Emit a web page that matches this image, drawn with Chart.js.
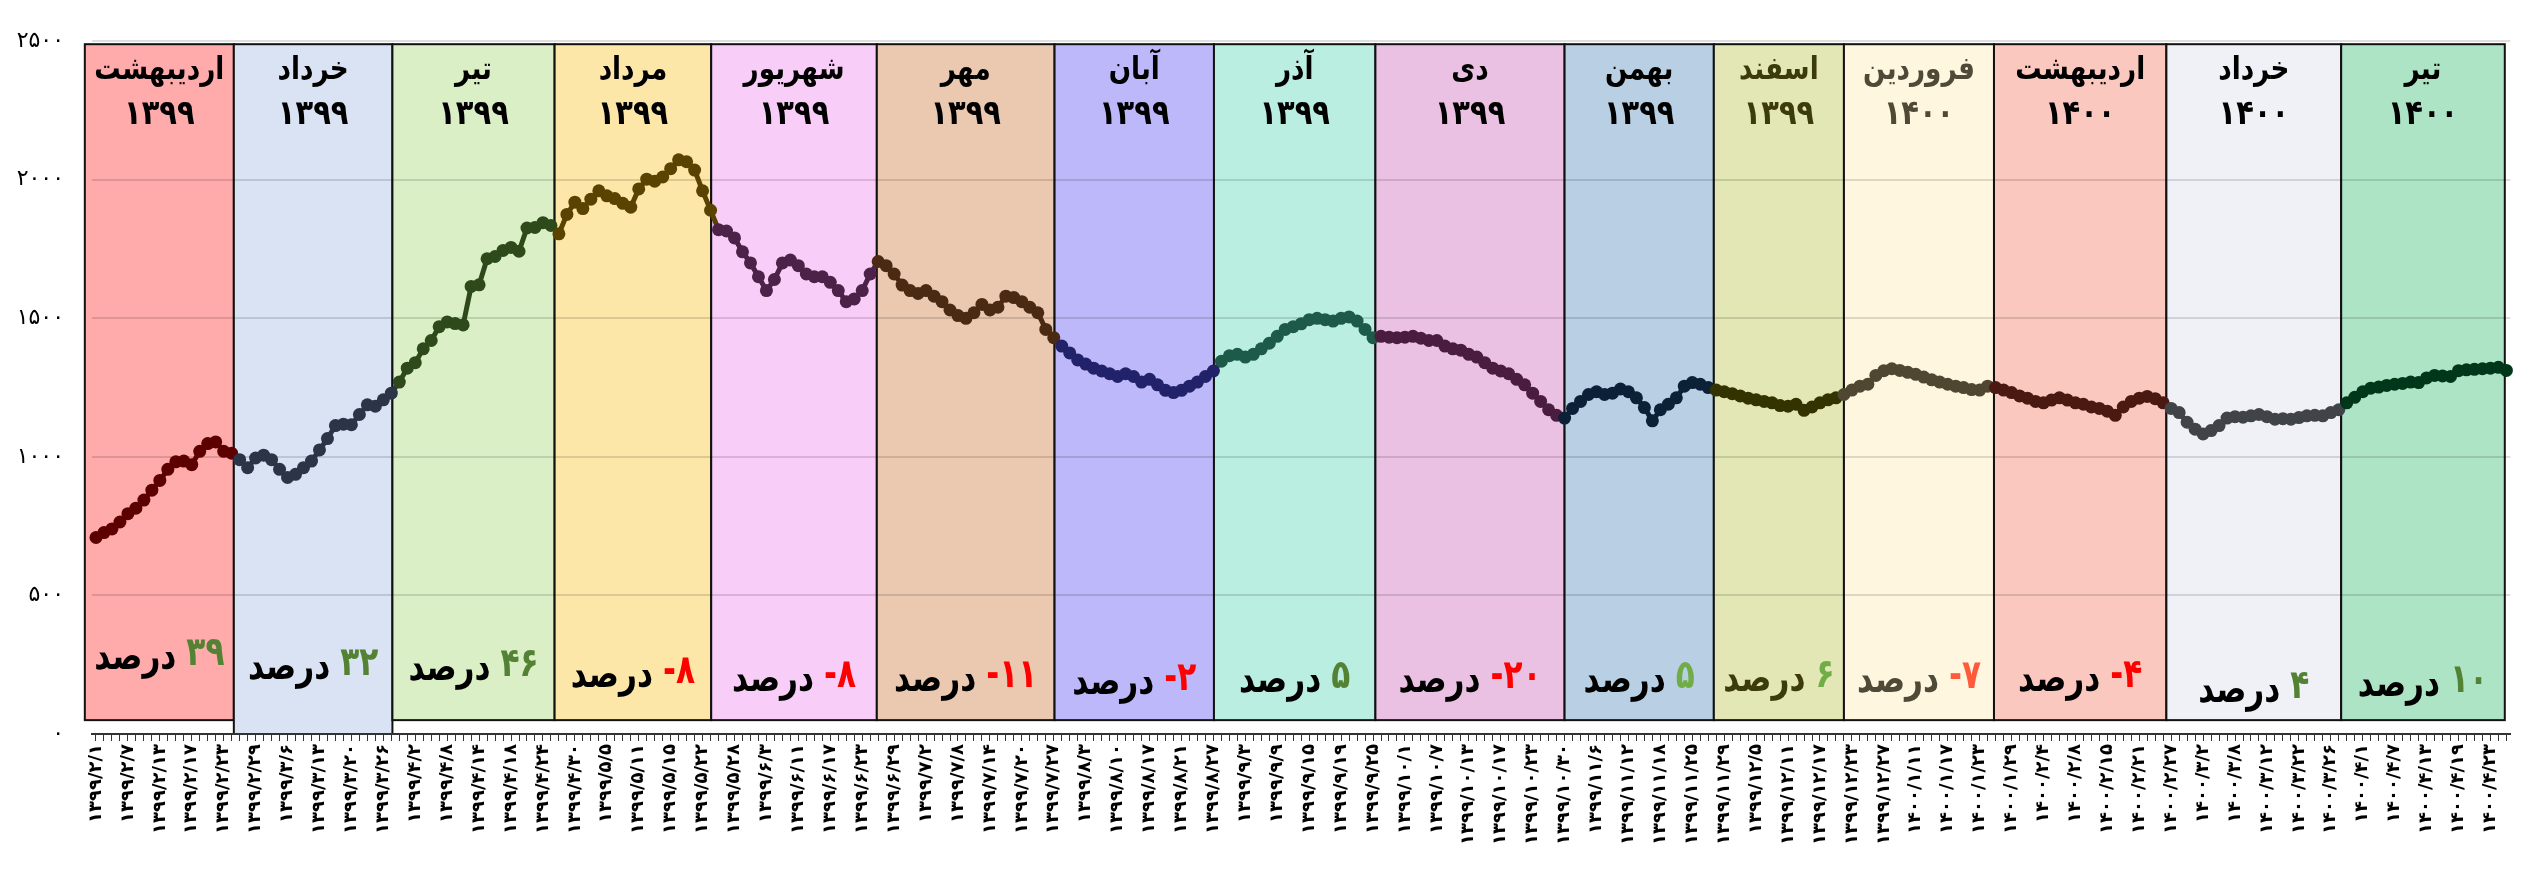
<!DOCTYPE html>
<html lang="fa">
<head>
<meta charset="UTF-8">
<title>شاخص کل بورس ۱۳۹۹ - ۱۴۰۰</title>
<script src="https://cdn.jsdelivr.net/npm/chart.js"></script>
<style>
  body { margin: 0; background: #fff; }
  .wrap { width: 2531px; height: 873px; }
</style>
</head>
<body>
<div class="wrap"><canvas id="shakhes"></canvas></div>
<script>
// tarikh-ha: har 4 rooz-e moamelati yek barchasb
const tickDates = [
  '1399/2/1','1399/2/7','1399/2/13','1399/2/17','1399/2/23','1399/2/29','1399/3/6','1399/3/13','1399/3/20','1399/3/26',
  '1399/4/2','1399/4/8','1399/4/14','1399/4/18','1399/4/24','1399/4/30','1399/5/5','1399/5/11','1399/5/15','1399/5/22',
  '1399/5/28','1399/6/3','1399/6/11','1399/6/17','1399/6/23','1399/6/29','1399/7/2','1399/7/8','1399/7/14','1399/7/20',
  '1399/7/27','1399/8/3','1399/8/10','1399/8/17','1399/8/21','1399/8/27','1399/9/3','1399/9/9','1399/9/15','1399/9/19',
  '1399/9/25','1399/10/1','1399/10/7','1399/10/13','1399/10/17','1399/10/23','1399/10/30','1399/11/6','1399/11/12','1399/11/18',
  '1399/11/25','1399/11/29','1399/12/5','1399/12/11','1399/12/17','1399/12/23','1399/12/27','1400/1/11','1400/1/17','1400/1/23',
  '1400/1/29','1400/2/4','1400/2/8','1400/2/15','1400/2/21','1400/2/27','1400/3/2','1400/3/8','1400/3/12','1400/3/22',
  '1400/3/26','1400/4/1','1400/4/7','1400/4/13','1400/4/19','1400/4/23'
];

// shakhes kol (hezar vahed), rooz be rooz
const indexValues = [
  709, 727, 740, 765, 795, 815, 844, 880, 915, 955, 982, 985, 972, 1020, 1048, 1054, 1020, 1013,
  990, 961, 996, 1006, 990, 955, 926, 937, 961, 985, 1025, 1066, 1113, 1118, 1116, 1153, 1188, 1183, 1206, 1230,
  1270, 1320, 1340, 1390, 1420, 1470, 1487, 1481, 1476, 1615, 1621, 1715, 1723, 1745, 1756, 1742, 1826, 1828, 1845, 1835,
  1805, 1875, 1919, 1896, 1930, 1960, 1942, 1932, 1915, 1901, 1967, 2002, 1995, 2010, 2040, 2072, 2065, 2035, 1960, 1890,
  1820, 1815, 1790, 1740, 1700, 1650, 1600, 1640, 1700, 1710, 1690, 1660, 1650, 1650, 1630, 1600, 1560, 1570, 1600, 1660,
  1705, 1690, 1660, 1620, 1600, 1590, 1600, 1580, 1560, 1530, 1510, 1500, 1520, 1550, 1530, 1540, 1580, 1575, 1560, 1540, 1520, 1460,
  1430, 1400, 1375, 1350, 1335, 1320, 1310, 1300, 1290, 1300, 1290, 1270, 1280, 1260, 1240, 1232, 1240, 1255, 1270, 1290, 1310,
  1345, 1365, 1370, 1360, 1370, 1390, 1410, 1435, 1460, 1470, 1480, 1495, 1500, 1495, 1490, 1500, 1505, 1490, 1460, 1430,
  1435, 1432, 1430, 1432, 1435, 1428, 1420, 1420, 1400, 1390, 1385, 1370, 1360, 1340, 1320, 1310, 1300, 1280, 1260, 1230, 1200, 1170, 1150, 1140,
  1175, 1200, 1225, 1235, 1225, 1230, 1245, 1235, 1213, 1178, 1130, 1170, 1190, 1213, 1255, 1268, 1262, 1250,
  1241, 1235, 1228, 1220, 1212, 1206, 1200, 1195, 1185, 1183, 1190, 1168, 1180, 1195, 1206, 1213,
  1225, 1241, 1255, 1262, 1294, 1311, 1318, 1312, 1305, 1298, 1288, 1278, 1270, 1262, 1255, 1250, 1243, 1241, 1255,
  1250, 1241, 1232, 1220, 1212, 1200, 1195, 1205, 1213, 1205, 1195, 1190, 1180, 1175, 1165, 1150, 1180, 1200, 1212, 1218, 1210, 1195,
  1175, 1160, 1125, 1100, 1083, 1095, 1113, 1140, 1145, 1143, 1148, 1153, 1145, 1136, 1138, 1136, 1142, 1148, 1150, 1148, 1160, 1170,
  1195, 1215, 1235, 1248, 1252, 1258, 1262, 1265, 1270, 1268, 1285, 1294, 1292, 1290, 1311, 1314, 1316, 1318, 1320, 1323, 1312
];

const yTicks = [0, 500, 1000, 1500, 2000, 2500];

// mah-ha
const monthNames = ['اردیبهشت','خرداد','تیر','مرداد','شهریور','مهر','آبان','آذر','دی','بهمن','اسفند','فروردین','اردیبهشت','خرداد','تیر'];
const monthYears = ['1399','1399','1399','1399','1399','1399','1399','1399','1399','1399','1399','1400','1400','1400','1400'];
const monthChange = [39, 32, 46, -8, -8, -11, -2, 5, -20, 5, 6, -7, -4, 4, 10];

// marz-e mostatil-ha (bar hasb-e shomare-ye rooz) va jaye matn-ha
const panelEdges = [-1.4, 17.27, 37.14, 57.46, 77.08, 97.83, 120.1, 140.07, 160.3, 184.0, 202.7, 219.0, 237.8, 259.4, 281.3, 301.8];
const panelFloor = [50, 0, 50, 50, 50, 50, 50, 50, 50, 50, 50, 50, 50, 50, 50];
const changeY = [655, 665, 666, 673, 677, 677, 680, 678, 678, 678, 677, 678, 677, 688, 682];

const panelColors = ['#ffabab','#dae3f3','#daefc6','#fde7a8','#f8cdf8','#ebc9b1','#bcb8f9','#b9eee1','#eac1e2','#b9cfe3','#e2e7b5','#fff6df','#fbc8bf','#f0f1f6','#aee4c6'];
const lineColors = ['#5c0000','#2c3547','#2e4a1b','#5a4300','#4d2248','#4a2a12','#22226a','#1e5a48','#4a1c40','#0c2038','#333300','#4f4732','#4a1a12','#404449','#00361a'];
const titleColors = ['#000','#000','#000','#000','#000','#000','#000','#000','#000','#000','#3b3b0b','#4f4a38','#000','#000','#000'];
const changeColors = ['#548235','#548235','#548235','#ff0000','#ff0000','#ff0000','#ff0000','#548235','#ff0000','#70ad47','#70ad47','#ff5b3b','#ff0000','#548235','#548235'];

const FONT = '"DejaVu Sans", sans-serif';
const fa = s => String(s).replace(/[0-9]/g, d => '۰۱۲۳۴۵۶۷۸۹'[d]);

function panelOf(i) {
  for (let j = 0; j < panelEdges.length - 1; j++) {
    if (i < panelEdges[j + 1]) return j;
  }
  return panelEdges.length - 2;
}

// matn-e bariktar: faghat ofoghi feshorde mishavad
function narrowText(ctx, text, x, y, sx) {
  ctx.save();
  ctx.translate(x, y);
  ctx.scale(sx, 1);
  ctx.fillText(text, 0, 0);
  ctx.restore();
}

const labels = indexValues.map((v, i) => (i % 4 === 0 && tickDates[i / 4]) ? fa(tickDates[i / 4]) : '');
const pointColors = indexValues.map((v, i) => lineColors[panelOf(i)]);

const monthPanels = {
  id: 'monthPanels',
  beforeDraw(chart) {
    const { ctx, chartArea, scales: { x, y } } = chart;
    ctx.save();
    for (let j = 0; j < monthNames.length; j++) {
      const x1 = x.getPixelForValue(panelEdges[j]);
      const x2 = x.getPixelForValue(panelEdges[j + 1]);
      const top = chartArea.top + 3;
      const bot = y.getPixelForValue(panelFloor[j]);
      ctx.fillStyle = panelColors[j];
      ctx.fillRect(x1, top, x2 - x1, bot - top);
      ctx.strokeStyle = '#111';
      ctx.lineWidth = 2;
      ctx.strokeRect(x1, top, x2 - x1, bot - top);
    }
    ctx.restore();
  },
  beforeDatasetsDraw(chart) {
    const { ctx, scales: { x } } = chart;
    ctx.save();
    ctx.textBaseline = 'middle';
    for (let j = 0; j < monthNames.length; j++) {
      const x1 = x.getPixelForValue(panelEdges[j]);
      const x2 = x.getPixelForValue(panelEdges[j + 1]);
      const cx = (x1 + x2) / 2;

      ctx.textAlign = 'center';
      ctx.fillStyle = titleColors[j];
      ctx.font = 'bold 32px ' + FONT;
      narrowText(ctx, monthNames[j], cx, 71, 0.82);
      ctx.font = 'bold 34px ' + FONT;
      narrowText(ctx, fa(monthYears[j]), cx, 115, 0.85);

      // darsad-e taghyir
      const sx = 0.78;
      const c = monthChange[j];
      const num = (c < 0 ? '-' : '') + fa(Math.abs(c));
      ctx.font = 'bold 40px ' + FONT;
      const wWord = ctx.measureText('درصد').width * sx;
      const wNum = ctx.measureText(num).width * sx;
      const gap = 10;
      const left = cx - (wWord + gap + wNum) / 2;
      ctx.textAlign = 'left';
      ctx.fillStyle = titleColors[j];
      narrowText(ctx, 'درصد', left, changeY[j] + 4, sx);
      ctx.fillStyle = changeColors[j];
      narrowText(ctx, num, left + wWord + gap, changeY[j], sx);
    }
    ctx.restore();
  }
};

new Chart(document.getElementById('shakhes'), {
  type: 'line',
  data: {
    labels: labels,
    datasets: [{
      data: indexValues,
      borderWidth: 5,
      pointRadius: 6.5,
      pointBorderWidth: 0,
      pointBackgroundColor: pointColors,
      borderColor: lineColors[0],
      segment: { borderColor: ctx => lineColors[panelOf(ctx.p0DataIndex)] },
      tension: 0
    }]
  },
  options: {
    responsive: true,
    maintainAspectRatio: false,
    animation: false,
    layout: { padding: { top: 21, right: 3, left: 0, bottom: 0 } },
    plugins: { legend: { display: false }, tooltip: { enabled: false } },
    scales: {
      x: {
        offset: true,
        afterFit: s => { s.height = 139; },
        grid: { drawOnChartArea: false, drawTicks: true, tickLength: 7, color: '#333', lineWidth: 1 },
        border: { display: true, color: '#333', width: 2 },
        ticks: {
          autoSkip: false, maxRotation: 90, minRotation: 90, padding: 3,
          color: '#000', font: { family: FONT, size: 18, weight: 'bold' }
        }
      },
      y: {
        min: 0, max: 2500,
        afterFit: s => { s.width = 92; },
        afterBuildTicks: s => { s.ticks = yTicks.map(v => ({ value: v })); },
        grid: { color: 'rgba(0,0,0,0.13)', lineWidth: 2, drawTicks: false },
        border: { display: false },
        ticks: {
          padding: 28, color: '#000',
          font: { family: FONT, size: 22 },
          callback: v => fa(v)
        }
      }
    }
  },
  plugins: [monthPanels]
});
</script>
</body>
</html>
